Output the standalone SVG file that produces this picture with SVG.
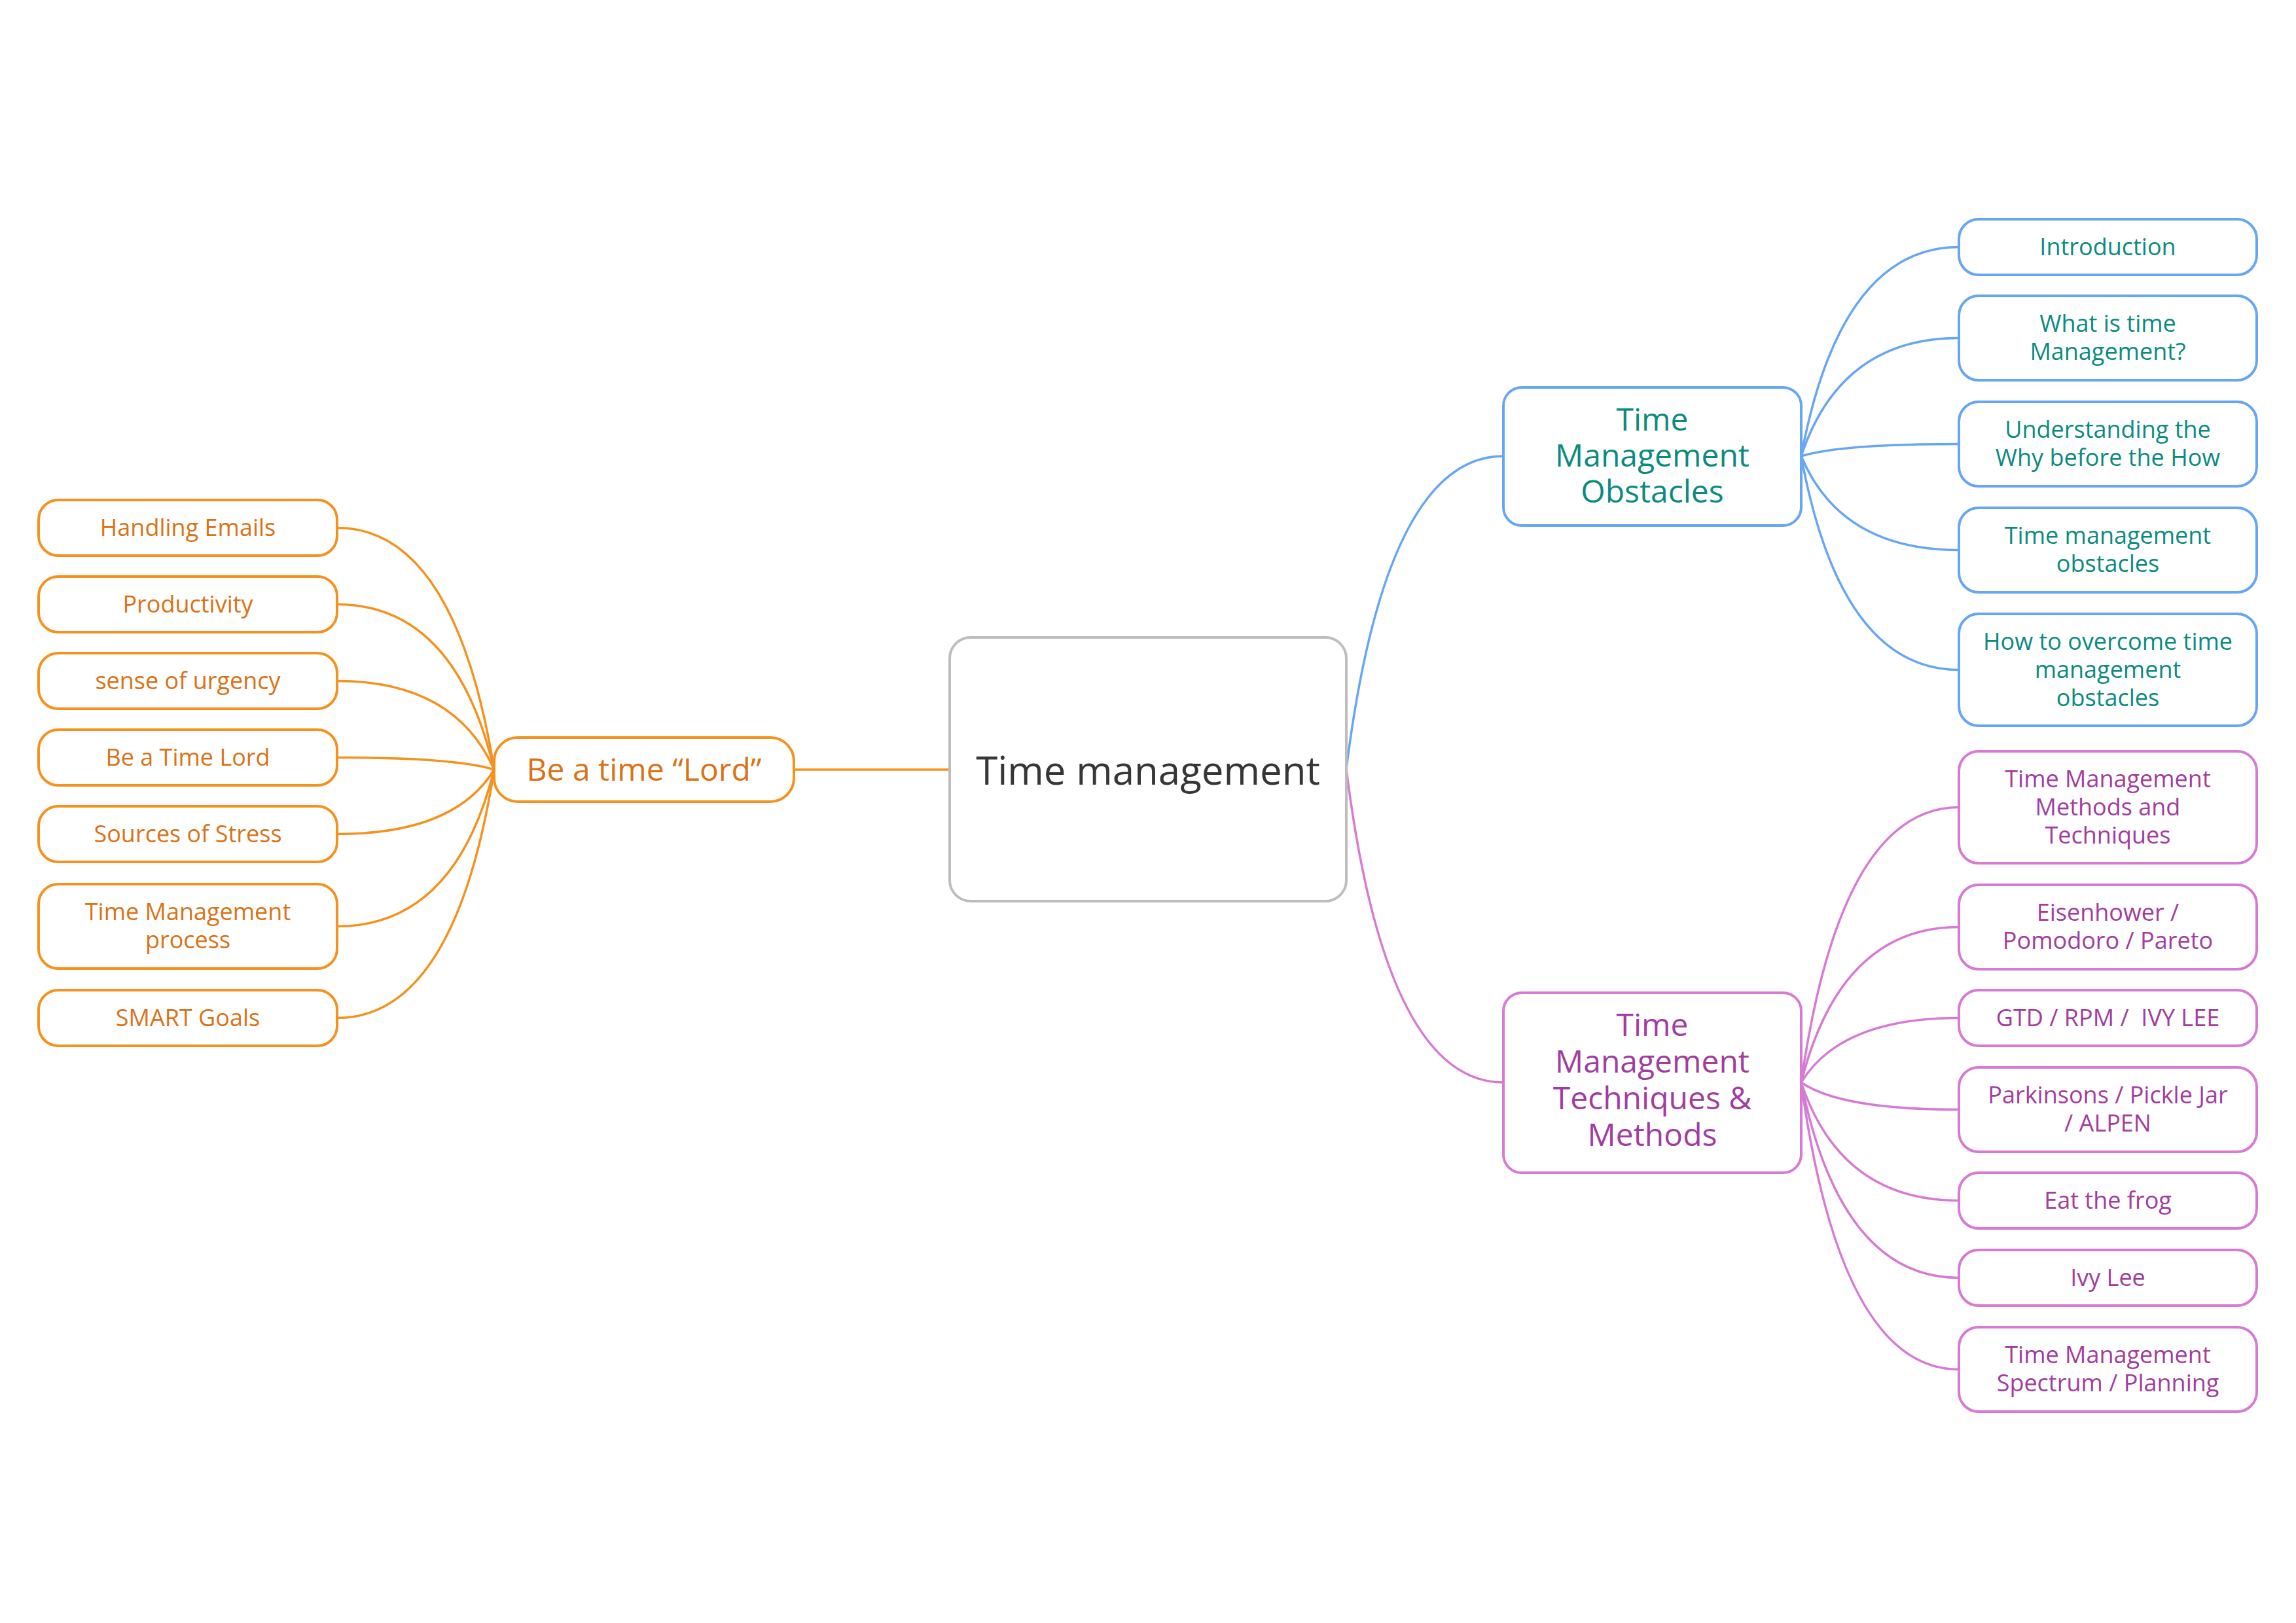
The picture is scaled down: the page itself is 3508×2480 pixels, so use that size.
<svg xmlns="http://www.w3.org/2000/svg" width="3508" height="2480" viewBox="0 0 3508 2480">
<style>
text{font-family:"Open Sans","Noto Sans","Liberation Sans",sans-serif;text-anchor:middle}
.bg{fill:#ffffff}
.box{fill:#ffffff;stroke-width:4}
.c{fill:none;stroke-width:3.5}
.or{stroke:#F5921E}
.bl{stroke:#66A6F4}
.mg{stroke:#D77AD3}
.tor{fill:#DA7216}
.tbl{fill:#0B8B7F}
.tmg{fill:#A23C9E}
.ch{font-size:36px}
.pa{font-size:48px}
</style>
<rect class="bg" x="0" y="0" width="3508" height="2480"/>
<g id="connectors">
<path class="c or" d="M1213,1176 L1451,1176"/>
<path class="c bl" d="M2057,1175 Q2117,697 2297,697"/>
<path class="c mg" d="M2057,1175 Q2117,1654 2297,1654"/>
<path class="c or" d="M755,1176 Q695,806.5 515,806.5"/>
<path class="c or" d="M755,1176 Q695,923.5 515,923.5"/>
<path class="c or" d="M755,1176 Q695,1040.5 515,1040.5"/>
<path class="c or" d="M755,1176 Q695,1157.5 515,1157.5"/>
<path class="c or" d="M755,1176 Q695,1274.5 515,1274.5"/>
<path class="c or" d="M755,1176 Q695,1415.5 515,1415.5"/>
<path class="c or" d="M755,1176 Q695,1555.5 515,1555.5"/>
<path class="c bl" d="M2752,697 Q2812,377.5 2993,377.5"/>
<path class="c bl" d="M2752,697 Q2812,516.5 2993,516.5"/>
<path class="c bl" d="M2752,697 Q2812,678.5 2993,678.5"/>
<path class="c bl" d="M2752,697 Q2812,840.5 2993,840.5"/>
<path class="c bl" d="M2752,697 Q2812,1023.5 2993,1023.5"/>
<path class="c mg" d="M2752,1654 Q2812,1233.5 2993,1233.5"/>
<path class="c mg" d="M2752,1654 Q2812,1416.5 2993,1416.5"/>
<path class="c mg" d="M2752,1654 Q2812,1555.5 2993,1555.5"/>
<path class="c mg" d="M2752,1654 Q2812,1695.5 2993,1695.5"/>
<path class="c mg" d="M2752,1654 Q2812,1834.5 2993,1834.5"/>
<path class="c mg" d="M2752,1654 Q2812,1952.5 2993,1952.5"/>
<path class="c mg" d="M2752,1654 Q2812,2092.5 2993,2092.5"/>
</g>
<g id="central">
<rect class="box" x="1451" y="974" width="606" height="403" rx="32" stroke="#BDBDBD"/>
<text x="1754" y="1199" font-size="60" fill="#363636">Time management</text>
</g>
<g id="lord">
<rect class="box or" x="755" y="1127" width="458" height="98" rx="36"/>
<text class="pa tor" x="984" y="1193">Be a time “Lord”</text>
</g>
<g id="obstacles">
<rect class="box bl" x="2297" y="592" width="455" height="211" rx="28"/>
<text class="pa tbl" x="2524.5" y="658">Time</text>
<text class="pa tbl" x="2524.5" y="713">Management</text>
<text class="pa tbl" x="2524.5" y="768">Obstacles</text>
</g>
<g id="techniques">
<rect class="box mg" x="2297" y="1517" width="455" height="275" rx="28"/>
<text class="pa tmg" x="2524.5" y="1583">Time</text>
<text class="pa tmg" x="2524.5" y="1639">Management</text>
<text class="pa tmg" x="2524.5" y="1695">Techniques &amp;</text>
<text class="pa tmg" x="2524.5" y="1751">Methods</text>
</g>
<g id="l1"><rect class="box or" x="59" y="764" width="456" height="85" rx="30"/><text class="ch tor" x="287" y="818.5">Handling Emails</text></g>
<g id="l2"><rect class="box or" x="59" y="881" width="456" height="85" rx="30"/><text class="ch tor" x="287" y="935.5">Productivity</text></g>
<g id="l3"><rect class="box or" x="59" y="998" width="456" height="85" rx="30"/><text class="ch tor" x="287" y="1052.5">sense of urgency</text></g>
<g id="l4"><rect class="box or" x="59" y="1115" width="456" height="85" rx="30"/><text class="ch tor" x="287" y="1169.5">Be a Time Lord</text></g>
<g id="l5"><rect class="box or" x="59" y="1232" width="456" height="85" rx="30"/><text class="ch tor" x="287" y="1286.5">Sources of Stress</text></g>
<g id="l6"><rect class="box or" x="59" y="1351" width="456" height="129" rx="30"/><text class="ch tor" x="287" y="1406">Time Management</text><text class="ch tor" x="287" y="1449">process</text></g>
<g id="l7"><rect class="box or" x="59" y="1513" width="456" height="85" rx="30"/><text class="ch tor" x="287" y="1567.5">SMART Goals</text></g>
<g id="b1"><rect class="box bl" x="2993" y="335" width="455" height="85" rx="30"/><text class="ch tbl" x="3220.5" y="389.5">Introduction</text></g>
<g id="b2"><rect class="box bl" x="2993" y="452" width="455" height="129" rx="30"/><text class="ch tbl" x="3220.5" y="507">What is time</text><text class="ch tbl" x="3220.5" y="550">Management?</text></g>
<g id="b3"><rect class="box bl" x="2993" y="614" width="455" height="129" rx="30"/><text class="ch tbl" x="3220.5" y="669">Understanding the</text><text class="ch tbl" x="3220.5" y="712">Why before the How</text></g>
<g id="b4"><rect class="box bl" x="2993" y="776" width="455" height="129" rx="30"/><text class="ch tbl" x="3220.5" y="831">Time management</text><text class="ch tbl" x="3220.5" y="874">obstacles</text></g>
<g id="b5"><rect class="box bl" x="2993" y="938" width="455" height="171" rx="30"/><text class="ch tbl" x="3220.5" y="992.5">How to overcome time</text><text class="ch tbl" x="3220.5" y="1035.5">management</text><text class="ch tbl" x="3220.5" y="1078.5">obstacles</text></g>
<g id="m1"><rect class="box mg" x="2993" y="1148" width="455" height="171" rx="30"/><text class="ch tmg" x="3220.5" y="1202.5">Time Management</text><text class="ch tmg" x="3220.5" y="1245.5">Methods and</text><text class="ch tmg" x="3220.5" y="1288.5">Techniques</text></g>
<g id="m2"><rect class="box mg" x="2993" y="1352" width="455" height="129" rx="30"/><text class="ch tmg" x="3220.5" y="1407">Eisenhower /</text><text class="ch tmg" x="3220.5" y="1450">Pomodoro / Pareto</text></g>
<g id="m3"><rect class="box mg" x="2993" y="1513" width="455" height="85" rx="30"/><text class="ch tmg" x="3220.5" y="1567.5" xml:space="preserve" style="white-space:pre">GTD / RPM /  IVY LEE</text></g>
<g id="m4"><rect class="box mg" x="2993" y="1631" width="455" height="129" rx="30"/><text class="ch tmg" x="3220.5" y="1686">Parkinsons / Pickle Jar</text><text class="ch tmg" x="3220.5" y="1729">/ ALPEN</text></g>
<g id="m5"><rect class="box mg" x="2993" y="1792" width="455" height="85" rx="30"/><text class="ch tmg" x="3220.5" y="1846.5">Eat the frog</text></g>
<g id="m6"><rect class="box mg" x="2993" y="1910" width="455" height="85" rx="30"/><text class="ch tmg" x="3220.5" y="1964.5">Ivy Lee</text></g>
<g id="m7"><rect class="box mg" x="2993" y="2028" width="455" height="129" rx="30"/><text class="ch tmg" x="3220.5" y="2083">Time Management</text><text class="ch tmg" x="3220.5" y="2126">Spectrum / Planning</text></g>
</svg>
